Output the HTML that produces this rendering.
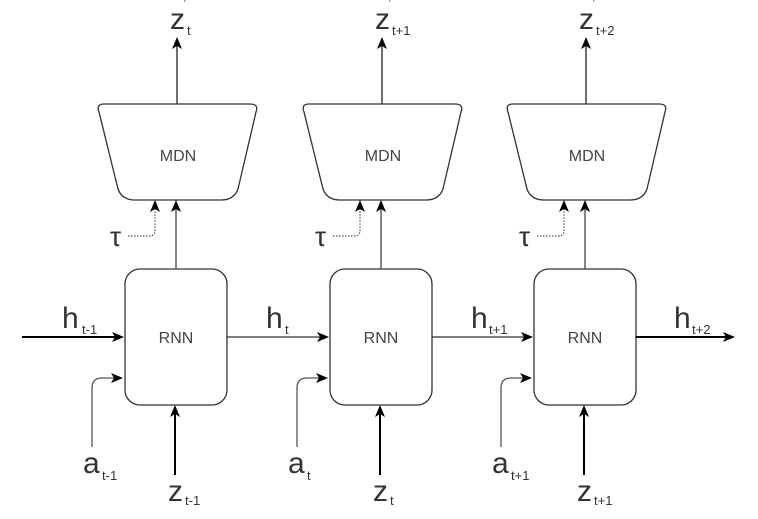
<!DOCTYPE html>
<html><head><meta charset="utf-8"><style>
html,body{margin:0;padding:0;background:#fff;}
svg{display:block;}
text{font-family:"Liberation Sans",sans-serif;fill:#333;}
.big{font-size:30px;}
.sub{font-size:13px;}
.lbl{font-size:16px;fill:#444;}
</style></head><body>
<svg width="758" height="519" viewBox="0 0 758 519" xmlns="http://www.w3.org/2000/svg">
<defs>
<g id="col">
  <path d="M104,104 L250,104 Q259,104 256,112 L238,189 Q234,200 221,200 L135,200 Q122,200 118,189 L99,112 Q96,104 104,104 Z" fill="#fff" stroke="#333" stroke-width="1.3"/>
  <text x="178" y="161" text-anchor="middle" class="lbl">MDN</text>
  <line x1="177" y1="104" x2="177" y2="46" stroke="#333" stroke-width="1.4"/>
  <path d="M177,37 L172,49 L177,46 L182,49 Z" fill="#000"/>
  <rect x="125" y="269" width="102" height="136" rx="15" fill="#fff" stroke="#333" stroke-width="1.3"/>
  <text x="176" y="343" text-anchor="middle" class="lbl">RNN</text>
  <line x1="176" y1="269" x2="176" y2="208" stroke="#444" stroke-width="1.3"/>
  <path d="M176,200 L171,212 L176,209 L181,212 Z" fill="#000"/>
  <path d="M128,236 L150,236 Q155,236 155,230 L155,208" fill="none" stroke="#555" stroke-width="1.2" stroke-dasharray="1.5,1.5"/>
  <path d="M155,200 L150,212 L155,209 L160,212 Z" fill="#000"/>
  <text x="110" y="246" class="big" style="font-size:28px">τ</text>
  <path d="M92,447 L92,388 Q92,378 102,378 L116,378" fill="none" stroke="#555" stroke-width="1.3"/>
  <path d="M123,378 L111,373 L114,378 L111,383 Z" fill="#000"/>
  <line x1="175" y1="475" x2="175" y2="412" stroke="#000" stroke-width="2"/>
  <path d="M175,405 L170,417 L175,414 L180,417 Z" fill="#000"/>
</g>
</defs>
<use href="#col"/>
<use href="#col" x="205"/>
<use href="#col" x="409"/>

<line x1="22" y1="337" x2="117" y2="337" stroke="#000" stroke-width="2"/>
<path d="M124,337 L112,332 L115,337 L112,342 Z" fill="#000"/>
<line x1="227" y1="337" x2="322" y2="337" stroke="#333" stroke-width="1.3"/>
<path d="M329,337 L317,332 L320,337 L317,342 Z" fill="#000"/>
<line x1="432" y1="337" x2="526" y2="337" stroke="#333" stroke-width="1.3"/>
<path d="M533,337 L521,332 L524,337 L521,342 Z" fill="#000"/>
<line x1="636" y1="337" x2="727" y2="337" stroke="#000" stroke-width="2"/>
<path d="M735,337 L723,332 L726,337 L723,342 Z" fill="#000"/>

<text x="62" y="328" class="big">h</text><text x="82" y="334" class="sub">t-1</text>
<text x="266" y="328" class="big">h</text><text x="285" y="334" class="sub">t</text>
<text x="471" y="328" class="big">h</text><text x="489" y="334" class="sub">t+1</text>
<text x="674" y="328" class="big">h</text><text x="692" y="334" class="sub">t+2</text>

<text x="170" y="29" class="big">z</text><text x="187" y="35" class="sub">t</text><text x="184" y="6" class="sub" style="font-size:8px">′</text>
<text x="375" y="29" class="big">z</text><text x="392" y="35" class="sub">t+1</text><text x="389" y="6" class="sub" style="font-size:8px">′</text>
<text x="579" y="29" class="big">z</text><text x="596" y="35" class="sub">t+2</text><text x="593" y="6" class="sub" style="font-size:8px">′</text>

<text x="83" y="473" class="big">a</text><text x="102" y="480" class="sub">t-1</text>
<text x="288" y="473" class="big">a</text><text x="307" y="480" class="sub">t</text>
<text x="492" y="473" class="big">a</text><text x="511" y="480" class="sub">t+1</text>

<text x="168" y="501" class="big">z</text><text x="185" y="505" class="sub">t-1</text>
<text x="373" y="501" class="big">z</text><text x="390" y="505" class="sub">t</text>
<text x="577" y="501" class="big">z</text><text x="594" y="505" class="sub">t+1</text>
</svg>
</body></html>
